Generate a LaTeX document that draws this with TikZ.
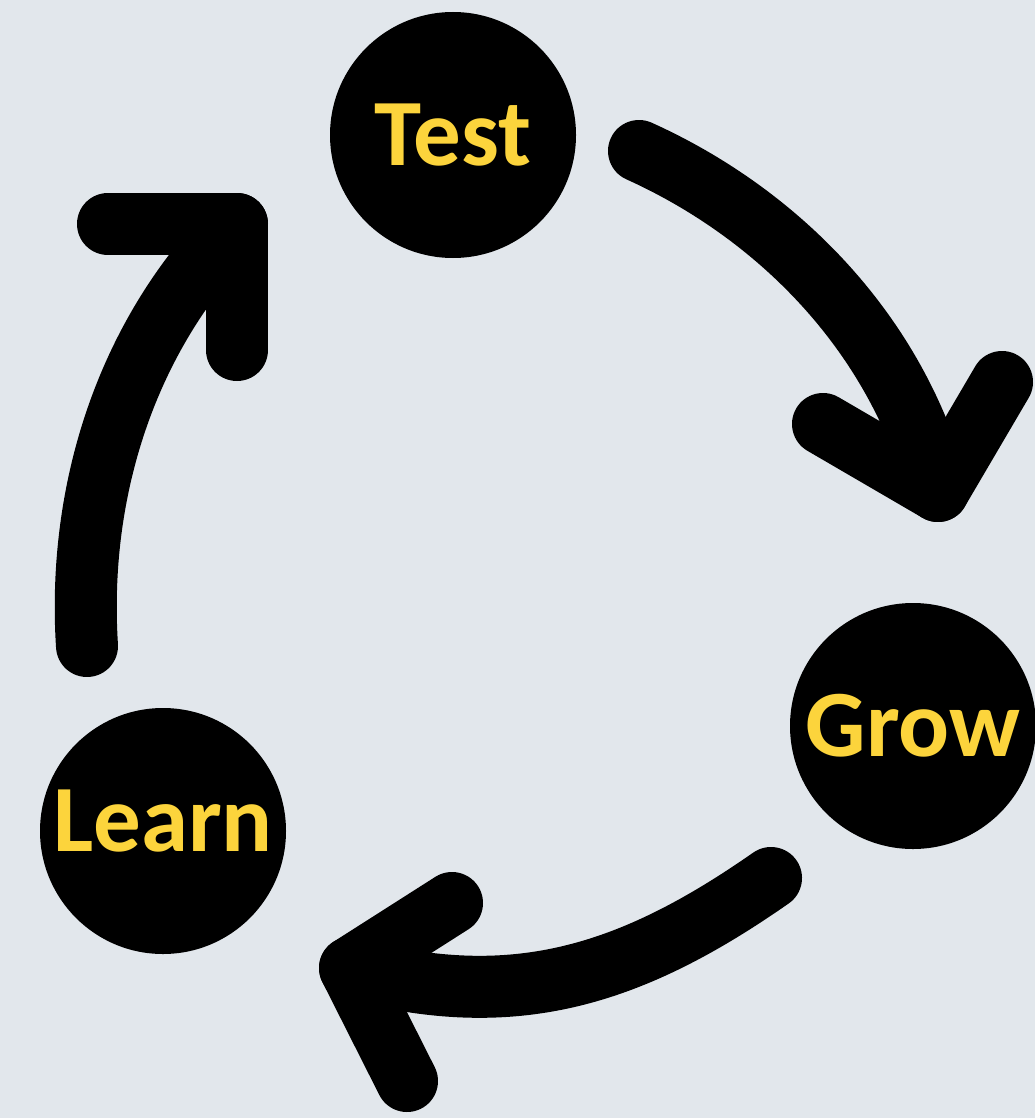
\documentclass[tikz,border=0pt]{standalone}
\usepackage{fontspec}
\setmainfont{Carlito}
\usepackage{tikz}
\usetikzlibrary{positioning, calc}
\definecolor{stageyellow}{RGB}{252, 212, 60}
\definecolor{concrete}{RGB}{226, 231, 236}

\begin{document}
\begin{tikzpicture}[x=1pt, y=-1pt,
  stage/.style={circle, fill=black, minimum size=246pt, inner sep=0pt,
    text=stageyellow, font=\fontsize{95}{95}\selectfont\bfseries},
  link/.style={line width=62pt, line cap=round, line join=round, draw=black}
]
  \fill[concrete] (0,0) rectangle (1035,1118);
  \useasboundingbox (0,0) rectangle (1035,1118);

  \node[stage] (test) at (453,135) {Test};
  \node[stage] (grow) at (913,726) {Grow};
  \node[stage, text depth=20pt] (learn) at (163,831) {Learn};

  % Test -> Grow
  \coordinate (tg-start) at (639,151);
  \coordinate (tg-tip) at (938,491);
  \coordinate (tg-armA) at (823,424);
  \coordinate (tg-armB) at (1002,382);
  \draw[link] (tg-start) .. controls (783,216) and (898,338) .. (tg-tip);
  \draw[link] (tg-armA) -- (tg-tip) -- (tg-armB);

  % Grow -> Learn
  \coordinate (gl-start) at (771,878);
  \coordinate (gl-tip) at (350,968);
  \coordinate (gl-armA) at (452,903);
  \coordinate (gl-armB) at (407,1081);
  \draw[link] (gl-start) .. controls (632,975) and (514,1013) .. (gl-tip);
  \draw[link] (gl-armA) -- (gl-tip) -- (gl-armB);

  % Learn -> Test
  \coordinate (lt-start) at (87,646);
  \coordinate (lt-tip) at (237,224);
  \coordinate (lt-armA) at (108,224);
  \coordinate (lt-armB) at (237,350);
  \draw[link] (lt-start) .. controls (77,490) and (127,334) .. (lt-tip);
  \draw[link] (lt-armA) -- (lt-tip) -- (lt-armB);
\end{tikzpicture}
\end{document}
